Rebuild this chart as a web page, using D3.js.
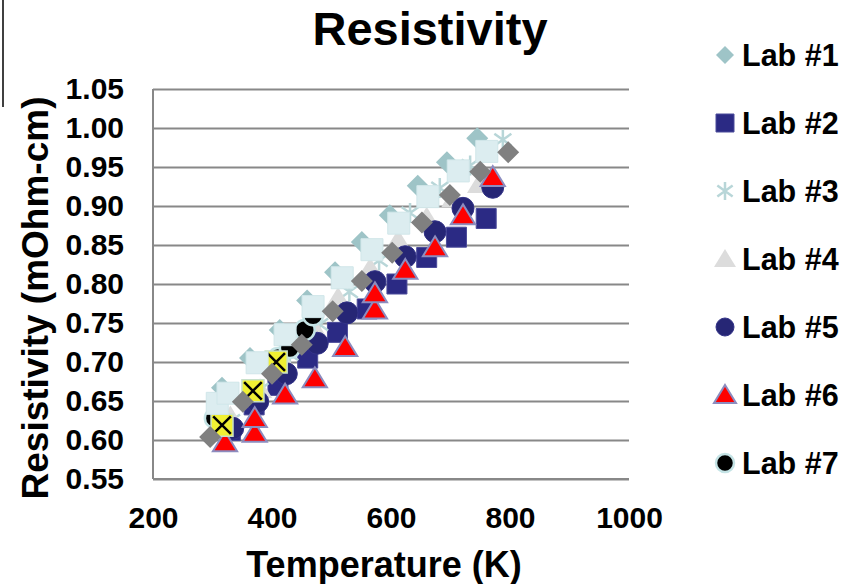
<!DOCTYPE html>
<html>

<head>
  <title>Resistivity</title>
  <style>
    body { margin: 0; background: #fff; }
    text { font-family: "Liberation Sans", Arial, sans-serif; font-weight: bold; }
  </style>
</head>

<body>

  <svg id="main" width="855" height="584"></svg>

  <script src="https://cdn.jsdelivr.net/npm/d3@7"></script>
  <script>

    // temperature (K), resistivity (mOhm-cm)
    const lab1 = [[316, 0.667], [363, 0.705], [413, 0.741], [459, 0.779], [506, 0.815], [551, 0.854], [598, 0.888], [645, 0.926], [694, 0.956], [745, 0.987]]
    const lab2 = [[330, 0.612], [370, 0.645], [410, 0.670], [460, 0.705], [510, 0.738], [560, 0.768], [610, 0.800], [660, 0.834], [710, 0.860], [760, 0.884]]
    const lab3 = [[332, 0.625], [380, 0.665], [430, 0.710], [480, 0.748], [530, 0.790], [580, 0.830], [632, 0.891], [682, 0.923], [733, 0.952], [788, 0.985]]
    const lab4 = [[330, 0.630], [380, 0.665], [420, 0.700], [470, 0.745], [511, 0.782], [565, 0.820], [612, 0.856], [660, 0.885], [705, 0.910], [748, 0.928]]
    const lab5 = [[334, 0.615], [376, 0.649], [424, 0.685], [476, 0.724], [526, 0.763], [573, 0.803], [624, 0.835], [674, 0.867], [721, 0.897], [771, 0.924]]
    const lab6 = [[321, 0.597], [371, 0.609], [371, 0.628], [422, 0.658], [472, 0.679], [523, 0.719], [573, 0.767], [573, 0.788], [624, 0.818], [674, 0.847], [721, 0.888], [771, 0.937]]
    const lab7 = [[304, 0.628], [410, 0.705], [430, 0.718], [455, 0.741], [469, 0.760]]
    const extraX = [[316, 0.619], [368, 0.663], [407, 0.700]]
    const extraSquare = [[308, 0.647], [326, 0.660], [375, 0.699], [422, 0.735], [469, 0.771], [518, 0.808], [568, 0.844], [613, 0.878], [662, 0.912], [713, 0.945], [761, 0.970]]
    const extraDiamond = [[296, 0.604], [351, 0.649], [400, 0.685], [450, 0.722], [502, 0.765], [551, 0.804], [602, 0.840], [652, 0.879], [699, 0.914], [750, 0.944], [797, 0.969]]

    const xTicks = [200, 400, 600, 800, 1000]
    const yTicks = [0.55, 0.60, 0.65, 0.70, 0.75, 0.80, 0.85, 0.90, 0.95, 1.00, 1.05]
    const legendNames = ['Lab #1', 'Lab #2', 'Lab #3', 'Lab #4', 'Lab #5', 'Lab #6', 'Lab #7']

    const svg = d3.select('#main')
    const plot = { left: 153, right: 629, top: 89, bottom: 479 }

    const xScale = d3.scaleLinear().domain([200, 1000]).range([plot.left, plot.right])
    const yScale = d3.scaleLinear().domain([0.55, 1.05]).range([plot.bottom, plot.top])

    // marker shapes, r = half size
    const shapes = {
      diamond: r => `M0,${-r}L${r},0L0,${r}L${-r},0Z`,
      square: r => `M${-r},${-r}H${r}V${r}H${-r}Z`,
      circle: r => `M${-r},0A${r},${r} 0 1,0 ${r},0A${r},${r} 0 1,0 ${-r},0Z`,
      triangle: r => `M0,${-r}L${r * 1.1},${r * 0.8}L${-r * 1.1},${r * 0.8}Z`,
      star: r => `M0,${-r}V${r}M${-r * 0.85},${-r * 0.6}L${r * 0.85},${r * 0.6}M${-r * 0.85},${r * 0.6}L${r * 0.85},${-r * 0.6}`,
      cross: r => `M${-r * 0.8},${-r * 0.8}L${r * 0.8},${r * 0.8}M${-r * 0.8},${r * 0.8}L${r * 0.8},${-r * 0.8}`
    }

    const series = [
      { data: lab1, shape: 'diamond', r: 11, fill: '#9ec4c7', stroke: 'none', sw: 0 },
      { data: lab2, shape: 'square', r: 10, fill: '#2b2a84', stroke: '#4a4a9a', sw: 1 },
      { data: lab3, shape: 'star', r: 10, fill: 'none', stroke: '#b8d6d8', sw: 2.5 },
      { data: lab4, shape: 'triangle', r: 11, fill: '#dcdcdc', stroke: 'none', sw: 0 },
      { data: lab5, shape: 'circle', r: 11, fill: '#262675', stroke: '#333388', sw: 1 },
      { data: lab6, shape: 'triangle', r: 11, fill: '#ff0000', stroke: '#8c8cbf', sw: 2 },
      { data: lab7, shape: 'circle', r: 10, fill: '#000000', stroke: '#c4e3e5', sw: 2.5 },
      { data: extraX, shape: 'square', r: 11, fill: '#f0f033', stroke: '#c8e0c8', sw: 1.5, cross: true },
      { data: extraSquare, shape: 'square', r: 11, fill: '#dcedf0', stroke: '#d0e6e9', sw: 1 },
      { data: extraDiamond, shape: 'diamond', r: 11, fill: '#808080', stroke: 'none', sw: 0 }
    ]

    // gridlines + y axis
    const yAxis = d3.axisLeft(yScale)
      .tickValues(yTicks)
      .tickSize(-(plot.right - plot.left))
      .tickPadding(29)
      .tickFormat(d3.format('.2f'))

    const gy = svg.append('g')
      .attr('transform', `translate(${plot.left},0)`)
      .call(yAxis)
    gy.select('.domain').remove()
    gy.selectAll('.tick line').attr('stroke', '#888').attr('stroke-width', 2)
    gy.selectAll('.tick text')
      .attr('font-size', '30px')
      .attr('fill', '#000')
      .attr('font-family', '"Liberation Sans", Arial, sans-serif')

    // x axis labels only
    const xAxis = d3.axisBottom(xScale)
      .tickValues(xTicks)
      .tickSize(0)
      .tickPadding(28)
      .tickFormat(d3.format('d'))
    const gx = svg.append('g')
      .attr('transform', `translate(0,${plot.bottom})`)
      .call(xAxis)
    gx.select('.domain').remove()
    gx.selectAll('.tick text')
      .attr('font-size', '30px')
      .attr('fill', '#000')
      .attr('font-family', '"Liberation Sans", Arial, sans-serif')

    // axis lines
    svg.append('line')
      .attr('x1', plot.left).attr('x2', plot.left)
      .attr('y1', plot.top).attr('y2', plot.bottom)
      .attr('stroke', '#888').attr('stroke-width', 2)
    svg.append('line')
      .attr('x1', plot.left).attr('x2', plot.right)
      .attr('y1', plot.bottom).attr('y2', plot.bottom)
      .attr('stroke', '#888').attr('stroke-width', 2)

    // points
    series.forEach(s => {
      const g = svg.append('g')
      const pts = g.selectAll('g').data(s.data).join('g')
        .attr('transform', d => `translate(${xScale(d[0])},${yScale(d[1])})`)
      pts.append('path')
        .attr('d', shapes[s.shape](s.r))
        .attr('fill', s.fill)
        .attr('stroke', s.stroke)
        .attr('stroke-width', s.sw)
      if (s.cross) {
        pts.append('path')
          .attr('d', shapes.cross(s.r))
          .attr('stroke', '#000')
          .attr('stroke-width', 2.5)
      }
    })

    // titles
    svg.append('text').text('Resistivity')
      .attr('x', 430).attr('y', 45)
      .attr('text-anchor', 'middle')
      .attr('font-size', '47px')

    svg.append('text').text('Temperature (K)')
      .attr('x', 384).attr('y', 577)
      .attr('text-anchor', 'middle')
      .attr('font-size', '36px')

    svg.append('text').text('Resistivity (mOhm-cm)')
      .attr('transform', 'translate(48,298) rotate(-90)')
      .attr('text-anchor', 'middle')
      .attr('font-size', '37px')

    // legend
    const legend = svg.append('g')
    legendNames.forEach((name, i) => {
      const s = series[i]
      const cy = 55 + i * 68
      legend.append('path')
        .attr('transform', `translate(725,${cy})`)
        .attr('d', shapes[s.shape](s.shape === 'triangle' ? 10 : 9))
        .attr('fill', s.fill)
        .attr('stroke', s.stroke)
        .attr('stroke-width', s.sw)
      legend.append('text').text(name)
        .attr('x', 742).attr('y', cy + 11)
        .attr('font-size', '30.5px')
    })

    // stray line at top left
    svg.append('line')
      .attr('x1', 3).attr('x2', 3).attr('y1', 0).attr('y2', 107)
      .attr('stroke', '#000').attr('stroke-width', 1.5)

  </script>
</body>

</html>
